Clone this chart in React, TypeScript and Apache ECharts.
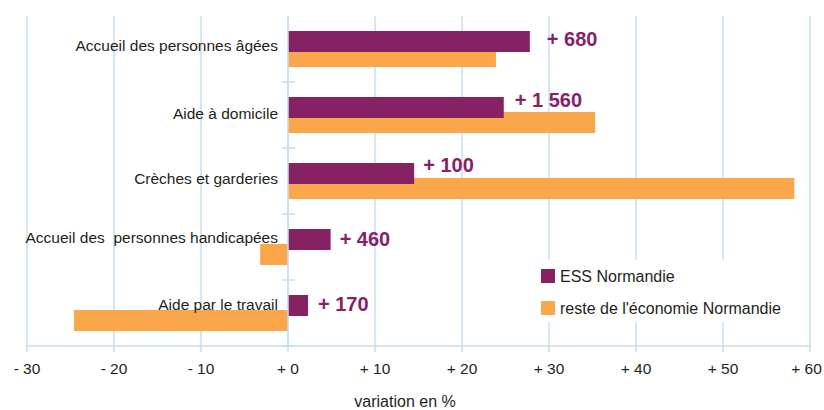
import { useEffect, useRef } from 'react';
import * as echarts from 'echarts';

const categories = [
  'Accueil des personnes âgées',
  'Aide à domicile',
  'Crèches et garderies',
  'Accueil des  personnes handicapées',
  'Aide par le travail',
];
const essValues = [27.8, 24.8, 14.5, 4.9, 2.3];
const resteValues = [23.9, 35.3, 58.2, -3.2, -24.6];
const essLabels = ['+ 680', '+ 1 560', '+ 100', '+ 460', '+ 170'];
const xTicks = [-30, -20, -10, 0, 10, 20, 30, 40, 50, 60];
const xTickLabels = ['- 30', '- 20', '- 10', '+ 0', '+ 10', '+ 20', '+ 30', '+ 40', '+ 50', '+ 60'];
const seriesNames = ['ESS Normandie', "reste de l'économie Normandie"];
const axisTitle = 'variation en %';

// layout nudges (pixels), not data
const catLabelShift = [4, 2, 3, 10, 9];
const barLabelNudge = [[8, -2], [2, -7.5], [0, -8], [0, 0], [1, -1]];

const PURPLE = '#862264';
const ORANGE = '#faa64a';
const GRID = '#c3def3';
const TEXT = '#231f20';
const FONT = "'Liberation Sans', Arial, sans-serif";

const GRID_LEFT = 27;
const GRID_RIGHT = 14;
const X_MIN = -30;
const X_MAX = 60;

export default function App() {
  const ref = useRef<HTMLDivElement>(null);
  useEffect(() => {
    if (!ref.current) return;
    const chart = echarts.init(ref.current, null, { renderer: 'svg' });
    const catRich: Record<string, any> = {};
    catLabelShift.forEach((s, i) => {
      catRich['s' + i] = {
        fontSize: 15.5,
        color: TEXT,
        fontFamily: FONT,
        padding: [0, 0, s * 2, 0],
      };
    });
    const plotWidth = 824 - GRID_LEFT - GRID_RIGHT;
    const zeroOffset = ((0 - X_MIN) / (X_MAX - X_MIN)) * plotWidth;
    chart.setOption({
      animation: false,
      backgroundColor: '#ffffff',
      textStyle: { fontFamily: FONT },
      grid: { left: GRID_LEFT, right: GRID_RIGHT, top: 16, bottom: 64, containLabel: false, outerBoundsMode: 'none' },
      legend: {
        orient: 'vertical',
        left: 531,
        top: 260,
        data: seriesNames,
        icon: 'rect',
        itemWidth: 14,
        itemHeight: 14,
        itemGap: 10,
        padding: [5, 10, 3, 10],
        backgroundColor: '#ffffff',
        textStyle: { fontSize: 16, color: TEXT, fontFamily: FONT, lineHeight: 22 },
      },
      xAxis: {
        type: 'value',
        min: X_MIN,
        max: X_MAX,
        interval: 10,
        axisLine: { show: true, onZero: false, lineStyle: { color: GRID, width: 1.5 } },
        axisTick: { show: true, length: 6, lineStyle: { color: GRID, width: 1.5 } },
        splitLine: { show: true, lineStyle: { color: GRID, width: 1.5 } },
        axisLabel: {
          margin: 14,
          fontSize: 15.5,
          color: TEXT,
          fontFamily: FONT,
          formatter: (v: number) => {
            const i = xTicks.indexOf(Math.round(v));
            const t = i >= 0 ? xTickLabels[i] : String(v);
            return i === xTicks.length - 1 ? '{last|' + t + '}' : t;
          },
          rich: {
            last: { fontSize: 15.5, color: TEXT, fontFamily: FONT, padding: [0, 7, 0, 0] },
          },
        },
        name: axisTitle,
        nameLocation: 'middle',
        nameGap: 47,
        nameTextStyle: { fontSize: 16, color: TEXT, fontFamily: FONT, padding: [0, 27, 0, 0] },
      },
      yAxis: [
        {
          type: 'category',
          inverse: true,
          position: 'left',
          offset: -zeroOffset,
          z: 10,
          data: categories,
          axisLine: { show: true, onZero: false, lineStyle: { color: GRID, width: 1.5 } },
          axisTick: {
            show: true,
            length: 6,
            interval: (idx: number) => idx !== 0,
            lineStyle: { color: GRID, width: 1.5 },
          },
          axisLabel: {
            margin: 10,
            fontSize: 15.5,
            color: TEXT,
            fontFamily: FONT,
            formatter: (v: string, idx: number) => '{s' + idx + '|' + v + '}',
            rich: catRich,
          },
          splitLine: { show: false },
        },
        {
          type: 'category',
          inverse: true,
          position: 'left',
          offset: -zeroOffset,
          data: categories,
          axisLine: { show: false, onZero: false },
          axisTick: {
            show: true,
            inside: true,
            length: 7,
            interval: (idx: number) => idx !== 0,
            lineStyle: { color: GRID, width: 1.5 },
          },
          axisLabel: { show: false },
          splitLine: { show: false },
        },
      ],
      series: [
        {
          name: seriesNames[0],
          type: 'bar',
          z: 3,
          barWidth: 21,
          barGap: '-28.57%',
          itemStyle: { color: PURPLE },
          data: essValues.map((v, i) => ({ value: v, label: { offset: barLabelNudge[i] } })),
          label: {
            show: true,
            position: 'right',
            distance: 9,
            color: PURPLE,
            fontWeight: 'bold',
            fontSize: 20,
            fontFamily: FONT,
            formatter: (p: any) => essLabels[p.dataIndex],
          },
        },
        {
          name: seriesNames[1],
          type: 'bar',
          z: 2,
          barWidth: 21,
          barGap: '-28.57%',
          itemStyle: { color: ORANGE },
          data: resteValues,
        },
      ],
    });
    return () => chart.dispose();
  }, []);
  return (
    <div
      ref={ref}
      style={{ position: 'fixed', left: 0, top: 0, width: 824, height: 410, background: '#fff' }}
    />
  );
}
